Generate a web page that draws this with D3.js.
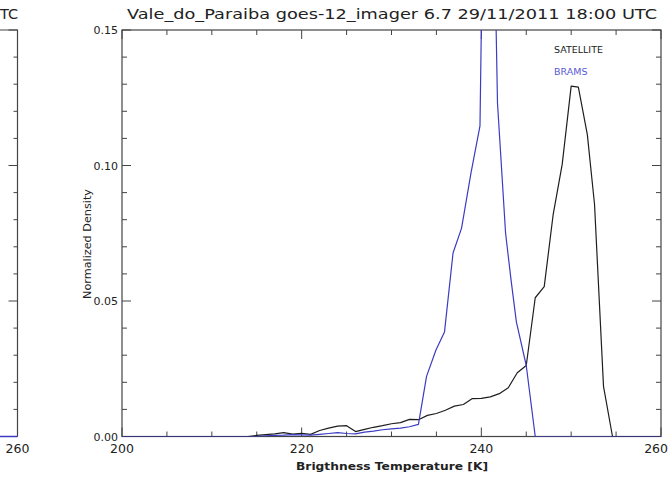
<!DOCTYPE html>
<html>
<head>
<meta charset="utf-8">
<script src="https://cdn.jsdelivr.net/npm/d3@7"></script>
<style>
  html, body { margin: 0; padding: 0; background: #fff; }
  svg { display: block; }
  text { font-family: "DejaVu Sans", "Liberation Sans", sans-serif; fill: #222; }
</style>
</head>
<body>
<svg id="chart" width="669" height="477"></svg>
<script>
// Brightness temperature histograms (normalized density), GOES-12 6.7 µm channel
const satTemp = [200, 214, 215, 216, 217, 218, 219, 220, 221, 222, 223, 224, 225, 226, 227, 228, 229,
  230, 231, 232, 233, 234, 235, 236, 237, 238, 239, 240, 241, 242, 243, 244, 245, 246, 247, 248, 249,
  250, 250.8, 251.8, 252.6, 253.6, 254.6, 260];
const satDensity = [0, 0, 0.0004, 0.0007, 0.0010, 0.0014, 0.0009, 0.0012, 0.0008, 0.0022, 0.0031, 0.0038,
  0.0040, 0.0018, 0.0026, 0.0034, 0.0040, 0.0047, 0.0051, 0.0063, 0.0062, 0.0078, 0.0085, 0.0097, 0.0112,
  0.0118, 0.0140, 0.0141, 0.0146, 0.0158, 0.0180, 0.0235, 0.0262, 0.0512, 0.0553, 0.0820, 0.1004,
  0.1293, 0.1289, 0.1114, 0.0857, 0.0185, 0, 0];

const bramsTemp = [200, 215, 216, 217, 218, 219, 220, 221, 222, 223, 224, 225, 226, 227, 228, 229, 230,
  231, 232, 233, 233.9, 234.95, 235.9, 236.85, 237.8, 238.85, 239.85, 240.7, 241.8, 242.7, 243.3, 243.9,
  245.0, 246.0, 260];
const bramsDensity = [0, 0, 0.0002, 0.0004, 0.0005, 0.0007, 0.0006, 0.0005, 0.0008, 0.0011, 0.0014,
  0.0011, 0.0010, 0.0016, 0.0020, 0.0025, 0.0028, 0.0031, 0.0036, 0.0045, 0.0222, 0.0319, 0.0386,
  0.0677, 0.0769, 0.0973, 0.1146, 0.32, 0.123, 0.075, 0.058, 0.0423, 0.0262, 0, 0];

const xMajorTicks = [200, 220, 240, 260];
const yMajorTicks = [0, 0.05, 0.10, 0.15];
const seriesNames = ["SATELLITE", "BRAMS"];
const titleText = "Vale_do_Paraiba goes-12_imager 6.7 29/11/2011 18:00 UTC";
const xTitle = "Brigthness Temperature [K]";
const yTitle = "Normalized Density";

const colors = { SATELLITE: "#1e1e1e", BRAMS: "#3b3bc4" };
const axisColor = "#444";

const svg = d3.select("#chart");
const m = { left: 122, right: 661, top: 30, bottom: 436.5 };

const x = d3.scaleLinear().domain([200, 260]).range([m.left, m.right]);
const y = d3.scaleLinear().domain([0, 0.15]).range([m.bottom, m.top]);

svg.append("defs").append("clipPath").attr("id", "plotClip")
  .append("rect")
  .attr("x", m.left).attr("y", m.top)
  .attr("width", m.right - m.left).attr("height", m.bottom - m.top);

// Neighbouring panel, only its right edge is in view
const left = svg.append("g").attr("class", "neighbour");
const nx = 17.5;
left.append("path")
  .attr("d", `M0,${m.top}H${nx}V${m.bottom}`)
  .attr("fill", "none").attr("stroke", axisColor).attr("stroke-width", 1.2);
left.selectAll("line.nt")
  .data(d3.range(0, 0.1501, 0.01))
  .join("line")
  .attr("x1", nx).attr("x2", (d, i) => nx - (i % 5 === 0 ? 9 : 4))
  .attr("y1", d => y(d)).attr("y2", d => y(d))
  .attr("stroke", axisColor).attr("stroke-width", 1);
left.append("line")
  .attr("x1", 0).attr("x2", nx).attr("y1", m.bottom).attr("y2", m.bottom)
  .attr("stroke", colors.BRAMS).attr("stroke-width", 1.5);
left.append("text").attr("x", nx).attr("y", 453).attr("text-anchor", "middle")
  .attr("font-size", 12.5).text("260");
left.append("text").attr("x", 0).attr("y", 19)
  .attr("font-size", 14.5).text("TC");

// Axes: ticks drawn inward on all four sides
const gx = svg.append("g");
const xMinor = d3.range(200, 260.01, 5);
gx.selectAll("line.xb").data(xMinor).join("line")
  .attr("x1", d => x(d)).attr("x2", d => x(d))
  .attr("y1", m.bottom).attr("y2", d => m.bottom - (xMajorTicks.includes(d) ? 9 : 5))
  .attr("stroke", axisColor).attr("stroke-width", 1);
gx.selectAll("line.xt").data(xMinor).join("line")
  .attr("x1", d => x(d)).attr("x2", d => x(d))
  .attr("y1", m.top).attr("y2", d => m.top + (xMajorTicks.includes(d) ? 9 : 5))
  .attr("stroke", axisColor).attr("stroke-width", 1);

const yMinor = d3.range(0, 0.1501, 0.01);
const isMajorY = v => yMajorTicks.some(t => Math.abs(t - v) < 1e-6);
gx.selectAll("line.yl").data(yMinor).join("line")
  .attr("y1", d => y(d)).attr("y2", d => y(d))
  .attr("x1", m.left).attr("x2", d => m.left + (isMajorY(d) ? 9 : 5))
  .attr("stroke", axisColor).attr("stroke-width", 1);
gx.selectAll("line.yr").data(yMinor).join("line")
  .attr("y1", d => y(d)).attr("y2", d => y(d))
  .attr("x1", m.right).attr("x2", d => m.right - (isMajorY(d) ? 9 : 5))
  .attr("stroke", axisColor).attr("stroke-width", 1);

gx.append("rect")
  .attr("x", m.left).attr("y", m.top)
  .attr("width", m.right - m.left).attr("height", m.bottom - m.top)
  .attr("fill", "none").attr("stroke", axisColor).attr("stroke-width", 1.2);

// Tick labels (the last one is kept inside the frame)
svg.append("g").selectAll("text").data(xMajorTicks).join("text")
  .attr("x", (d, i) => i === xMajorTicks.length - 1 ? 668 : x(d)).attr("y", 453)
  .attr("text-anchor", (d, i) => i === xMajorTicks.length - 1 ? "end" : "middle")
  .attr("font-size", 12.5)
  .text(d => d3.format("d")(d));
svg.append("g").selectAll("text").data(yMajorTicks).join("text")
  .attr("x", 118).attr("y", d => y(d) + 4)
  .attr("text-anchor", "end").attr("font-size", 11)
  .text(d => d3.format(".2f")(d));

// Titles
svg.append("text").attr("x", 392).attr("y", 19).attr("text-anchor", "middle")
  .attr("font-size", 14.5).attr("textLength", 530).attr("lengthAdjust", "spacingAndGlyphs")
  .text(titleText);
svg.append("text").attr("x", 392).attr("y", 470).attr("text-anchor", "middle")
  .attr("font-size", 11).attr("font-weight", "bold").attr("textLength", 192)
  .attr("lengthAdjust", "spacingAndGlyphs")
  .text(xTitle);
svg.append("text")
  .attr("transform", "translate(91,244) rotate(-90)")
  .attr("text-anchor", "middle").attr("font-size", 10).attr("textLength", 110)
  .attr("lengthAdjust", "spacingAndGlyphs")
  .text(yTitle);

// Density curves
const line = d3.line().x(d => x(d[0])).y(d => y(d[1]));
const plot = svg.append("g").attr("clip-path", "url(#plotClip)");
plot.append("path")
  .datum(d3.zip(satTemp, satDensity))
  .attr("d", line).attr("fill", "none")
  .attr("stroke", colors.SATELLITE).attr("stroke-width", 1.2).attr("stroke-linejoin", "round");
plot.append("path")
  .datum(d3.zip(bramsTemp, bramsDensity))
  .attr("d", line).attr("fill", "none")
  .attr("stroke", colors.BRAMS).attr("stroke-width", 1.2).attr("stroke-linejoin", "round");

// Legend
svg.append("g").selectAll("text").data(seriesNames).join("text")
  .attr("x", 554).attr("y", (d, i) => 53 + i * 22)
  .attr("font-size", 9.5)
  .style("fill", d => d === "BRAMS" ? "#5a5ad8" : "#222")
  .text(d => d);
</script>
</body>
</html>
